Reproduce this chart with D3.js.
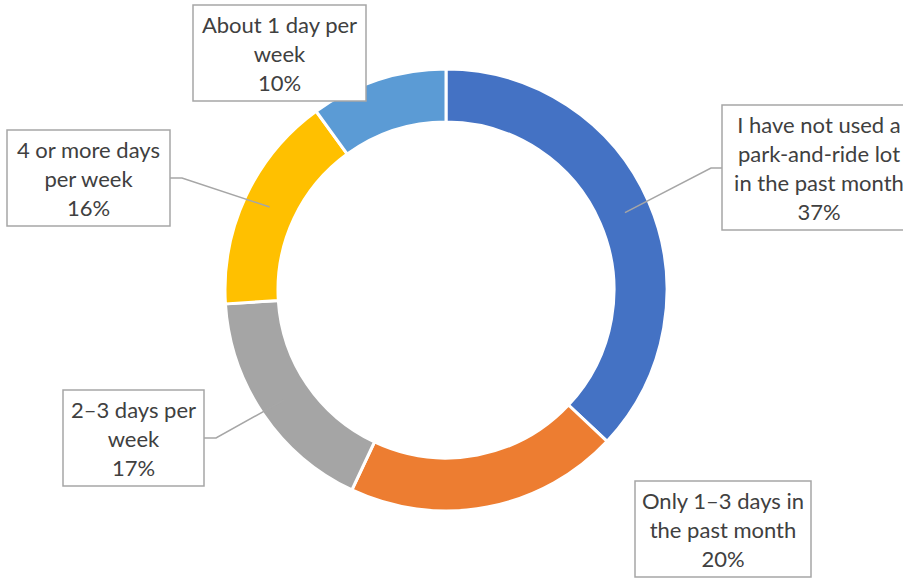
<!DOCTYPE html>
<html>
<head>
<meta charset="utf-8">
<script src="https://cdn.jsdelivr.net/npm/d3@7/dist/d3.min.js"></script>
<style>
html,body{margin:0;padding:0;background:#fff;overflow:hidden;}
svg{display:block;}
</style>
</head>
<body>
<svg id="chart" width="903" height="578"></svg>
<script>
const categories = [
  "I have not used a park-and-ride lot in the past month",
  "Only 1–3 days in the past month",
  "2–3 days per week",
  "4 or more days per week",
  "About 1 day per week"
];
const values = [37, 20, 17, 16, 10];
const labelLines = [
  ["I have not used a", "park-and-ride lot", "in the past month"],
  ["Only 1–3 days in", "the past month"],
  ["2–3 days per", "week"],
  ["4 or more days", "per week"],
  ["About 1 day per", "week"]
];
const colors = ["#4472C4", "#ED7D31", "#A5A5A5", "#FFC000", "#5B9BD5"];

// layout of label boxes (x, y, w) and leader elbows
const boxes = [
  {x: 722, y: 105, w: 194, elbow: [711, 168], from: [722, 168]},
  {x: 635, y: 481, w: 176, elbow: null},
  {x: 63, y: 390, w: 141, elbow: [216, 438], from: [204, 438]},
  {x: 7, y: 130, w: 163, elbow: [182, 178], from: [170, 178]},
  {x: 193, y: 5, w: 173, elbow: null}
];

const svg = d3.select("#chart");
const cx = 446, cy = 290, outerR = 221, innerR = 168;
const g = svg.append("g").attr("transform", `translate(${cx},${cy})`);

const pie = d3.pie().sort(null).value(d => d)(values);
const arc = d3.arc().innerRadius(innerR).outerRadius(outerR);
const midArc = d3.arc().innerRadius(195).outerRadius(195);

g.selectAll("path.slice").data(pie).enter().append("path")
  .attr("class", "slice")
  .attr("d", arc)
  .attr("fill", (d, i) => colors[i])
  .attr("stroke", "#fff")
  .attr("stroke-width", 3);

// leader lines
pie.forEach((d, i) => {
  const b = boxes[i];
  if (!b.elbow) return;
  const c = midArc.centroid(d);
  const pts = [b.from, b.elbow, [c[0] + cx, c[1] + cy]];
  svg.append("polyline")
    .attr("points", pts.map(p => p.join(",")).join(" "))
    .attr("fill", "none")
    .attr("stroke", "#A6A6A6")
    .attr("stroke-width", 1.5);
});

// label boxes
const lineH = 29;
pie.forEach((d, i) => {
  const b = boxes[i];
  const lines = labelLines[i].concat([values[i] + "%"]);
  const h = lines.length * lineH + 9;
  svg.append("rect")
    .attr("x", b.x).attr("y", b.y)
    .attr("width", b.w).attr("height", h)
    .attr("fill", "#fff")
    .attr("stroke", "#A6A6A6")
    .attr("stroke-width", 1.5);
  const t = svg.append("text")
    .attr("text-anchor", "middle")
    .attr("font-family", "Lato, 'Open Sans', sans-serif")
    .attr("font-size", 22)
    .attr("fill", "#404040");
  lines.forEach((ln, k) => {
    t.append("tspan")
      .attr("x", b.x + b.w / 2)
      .attr("y", b.y + 28 + k * lineH)
      .text(ln);
  });
});
</script>
</body>
</html>
